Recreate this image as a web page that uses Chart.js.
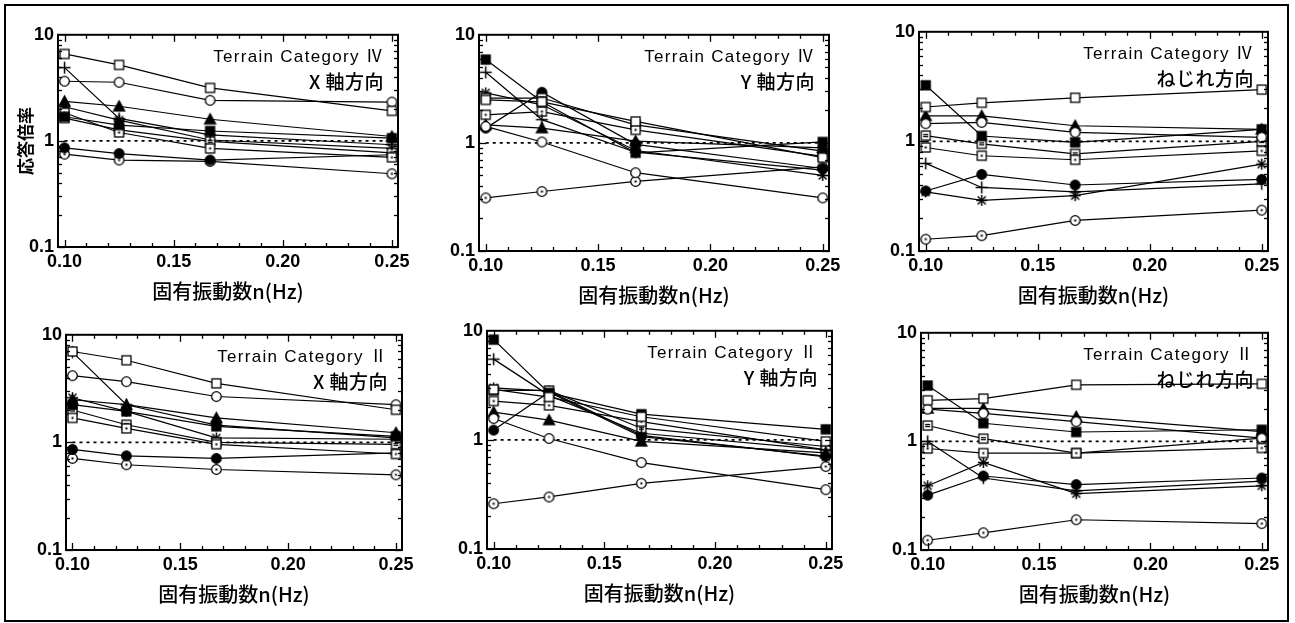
<!DOCTYPE html>
<html><head><meta charset="utf-8">
<script src="https://cdn.jsdelivr.net/npm/chart.js@4.4.1/dist/chart.umd.min.js"></script>
<style>
html,body{margin:0;padding:0;background:#fff;}
body{width:1295px;height:623px;position:relative;overflow:hidden;}
#frame{position:absolute;left:4px;top:4px;width:1281px;height:614px;border:2px solid #000;box-sizing:content-box;}
canvas{position:absolute;}
</style></head><body>
<div id="frame"></div>
<canvas id="c0"></canvas><canvas id="c1"></canvas><canvas id="c2"></canvas>
<canvas id="c3"></canvas><canvas id="c4"></canvas><canvas id="c5"></canvas>
<script>
// ---------------- data ----------------
const freq = [0.10, 0.125, 0.1667, 0.25];          // 固有振動数 n (Hz)
const xTickValues = [0.10, 0.15, 0.20, 0.25];
const yTickValues = [0.1, 1, 10];
const referenceLevel = 1;
const markerKinds = ['openSquare','openCircle','plus','filledTriangle','filledSquare',
                     'dotSquare','lineSquare','asterisk','filledCircle','dotCircle'];

// rows follow markerKinds order, columns follow freq
const cat4X = [[6.6,5.2,3.16,1.92],[3.65,3.57,2.41,2.32],[4.9,1.63,1.14,0.92],[2.36,2.12,1.6,1.1],
  [1.69,1.41,1.24,1.06],[1.84,1.2,0.85,0.70],[1.64,1.27,0.99,0.77],[2.1,1.57,1.02,0.85],
  [0.86,0.76,0.66,0.74],[0.75,0.66,0.64,0.49]];
const cat4Y = [[2.5,2.4,1.58,0.73],[1.42,1.02,0.53,0.31],[4.5,1.64,0.82,0.56],[1.47,1.37,1.04,0.9],
  [5.9,2.4,0.81,1.02],[1.82,1.95,1.32,0.75],[2.6,2.6,1.47,0.84],[2.9,2.25,0.85,0.5],
  [1.37,2.94,0.97,0.58],[0.31,0.355,0.44,0.6]];
const cat4T = [[2.06,2.25,2.5,2.97],[1.45,1.49,1.21,1.09],[0.63,0.38,0.346,0.41],[1.71,1.71,1.39,1.29],
  [3.25,1.12,0.98,1.29],[0.88,0.74,0.68,0.82],[1.13,0.95,0.77,1.0],[0.346,0.29,0.32,0.62],
  [0.353,0.5,0.40,0.45],[0.128,0.138,0.19,0.236]];
const cat2X = [[7.0,5.8,3.54,2.01],[4.17,3.67,2.67,2.24],[6.9,2.24,1.45,1.1],[2.49,2.24,1.69,1.23],
  [2.24,1.94,1.41,1.14],[1.69,1.35,0.96,0.78],[2.0,1.46,1.0,0.96],[2.6,1.94,1.1,1.07],
  [0.86,0.75,0.71,0.8],[0.71,0.62,0.56,0.5]];
const cat2Y = [[2.9,2.47,1.63,0.97],[1.57,1.03,0.62,0.35],[5.5,2.56,1.15,0.81],[1.8,1.52,0.97,0.76],
  [8.3,2.7,1.72,1.25],[2.27,2.07,1.47,0.81],[2.84,2.84,1.28,0.87],[3.0,2.8,1.1,0.7],
  [1.23,2.74,1.07,0.71],[0.26,0.30,0.40,0.57]];
const cat2T = [[2.39,2.48,3.32,3.39],[1.98,1.81,1.52,1.07],[1.0,0.46,0.35,0.43],[2.01,2.01,1.69,1.23],
  [3.27,1.47,1.22,1.28],[0.86,0.78,0.78,0.87],[1.4,1.06,0.78,1.07],[0.39,0.64,0.33,0.39],
  [0.32,0.48,0.40,0.46],[0.123,0.144,0.19,0.175]];

const panelData = [cat4X, cat4Y, cat4T, cat2X, cat2Y, cat2T];
const panelTitles = [
  ['Terrain Category Ⅳ','X 軸方向'], ['Terrain Category Ⅳ','Y 軸方向'], ['Terrain Category Ⅳ','ねじれ方向'],
  ['Terrain Category Ⅱ','X 軸方向'], ['Terrain Category Ⅱ','Y 軸方向'], ['Terrain Category Ⅱ','ねじれ方向']];
const xAxisTitle = '固有振動数n(Hz)';
const yAxisTitle = '応答倍率';

// ---------------- layout (plot-area boxes, px) ----------------
const boxes = [
  {l:58,r:398,t:32,b:247},{l:479,r:829,t:32,b:251},{l:919,r:1268,t:29,b:251},
  {l:66,r:402,t:332,b:550},{l:487,r:832,t:328,b:549},{l:921,r:1268,t:330,b:550}];
const PADL=5, YW=50, PADT=12, PADR=30, XH=58;
const FONT = '"Liberation Sans","Noto Sans CJK JP",sans-serif';
const CJK = '"Noto Sans CJK JP","Liberation Sans",sans-serif';

function makeMarker(kind){
  const S=15, c=document.createElement('canvas'); c.width=S; c.height=S;
  const g=c.getContext('2d'); const m=7.5;
  g.strokeStyle='#000'; g.fillStyle='#fff'; g.lineWidth=1.3;
  const sq=(fill)=>{ g.fillStyle=fill; g.fillRect(3,3,9,9); g.strokeRect(3,3,9,9); };
  const ci=(fill)=>{ g.beginPath(); g.arc(m,m,4.8,0,Math.PI*2); g.fillStyle=fill; g.fill(); g.stroke(); };
  const dot=()=>{ g.fillStyle='#000'; g.fillRect(6.5,6.5,2,2); };
  const seg=(a,b,c2,d)=>{ g.beginPath(); g.moveTo(a,b); g.lineTo(c2,d); g.stroke(); };
  switch(kind){
    case 'openSquare': sq('#fff'); break;
    case 'filledSquare': sq('#000'); break;
    case 'dotSquare': sq('#fff'); dot(); break;
    case 'lineSquare': sq('#fff'); seg(5,6.5,10,6.5); seg(5,8.5,10,8.5); break;
    case 'openCircle': ci('#fff'); break;
    case 'filledCircle': ci('#000'); break;
    case 'dotCircle': ci('#fff'); dot(); break;
    case 'filledTriangle': g.beginPath(); g.moveTo(m,2); g.lineTo(13,12); g.lineTo(2,12); g.closePath();
      g.fillStyle='#000'; g.fill(); g.stroke(); break;
    case 'plus': g.lineWidth=1.5; seg(m,1.5,m,13.5); seg(1.5,m,13.5,m); break;
    case 'asterisk': g.lineWidth=1.5; seg(m,2,m,13); seg(2,m,13,m); seg(3.5,3.5,11.5,11.5); seg(11.5,3.5,3.5,11.5); break;
  }
  return c;
}
const markerImages = markerKinds.map(makeMarker);

const axisFramePlugin = {
  id:'axisFrame',
  afterDatasetsDraw(chart){
    const {ctx, chartArea:a, scales:{x,y}} = chart;
    ctx.save(); ctx.strokeStyle='#000'; ctx.lineWidth=1.3;
    const ln=(x1,y1,x2,y2)=>{ctx.beginPath();ctx.moveTo(x1,y1);ctx.lineTo(x2,y2);ctx.stroke();};
    for(let k=10;k<=25;k++){
      const px=Math.round(x.getPixelForValue(k/100))+0.5; const len=(k%5===0)?7:4;
      ln(px,a.top,px,a.top+len); ln(px,a.bottom,px,a.bottom-len);
    }
    for(let e=-1;e<1;e++) for(let mm=1;mm<=9;mm++){
      const v=mm*Math.pow(10,e); const py=Math.round(y.getPixelForValue(v))+0.5; const len=mm===1?7:4;
      ln(a.left,py,a.left+len,py); ln(a.right,py,a.right-len,py);
    }
    ctx.lineWidth=2; ctx.strokeRect(a.left,a.top,a.right-a.left,a.bottom-a.top);
    ctx.restore();
  }
};
const panelTextPlugin = {
  id:'panelText',
  afterDraw(chart, args, opts){
    const {ctx, chartArea:a} = chart;
    ctx.save(); ctx.fillStyle='#000'; ctx.textAlign='right'; ctx.textBaseline='middle';
    ctx.font='17px '+FONT; ctx.letterSpacing='1.3px';
    ctx.fillText(opts.lines[0], a.right-14, a.top+23);
    ctx.font='500 19px '+CJK; ctx.letterSpacing='0.5px';
    ctx.fillText(opts.lines[1], a.right-14, a.top+47);
    ctx.restore();
  }
};

panelData.forEach((rows, i) => {
  const b = boxes[i];
  const cv = document.getElementById('c'+i);
  cv.width = (b.r-b.l)+PADL+YW+PADR; cv.height = (b.b-b.t)+PADT+XH;
  cv.style.left = (b.l-PADL-YW)+'px'; cv.style.top = (b.t-PADT)+'px';
  const datasets = rows.map((vals, j) => ({
    data: freq.map((f,k)=>({x:f, y:vals[k]})),
    borderColor:'#000', borderWidth:1.2, pointStyle: markerImages[j], pointRadius:5, tension:0, clip:false
  }));
  datasets.push({data:[{x:freq[0],y:referenceLevel},{x:freq[freq.length-1],y:referenceLevel}],
    borderColor:'#000', borderWidth:1.6, borderDash:[3,4], pointRadius:0});
  new Chart(cv, {
    type:'line',
    data:{datasets},
    options:{
      responsive:false, animation:false, devicePixelRatio:1,
      layout:{padding:{left:PADL, top:PADT, right:PADR, bottom:0}},
      plugins:{legend:{display:false}, tooltip:{enabled:false}, panelText:{lines:panelTitles[i]}},
      scales:{
        x:{type:'linear', min:0.097, max:0.2528,
          afterBuildTicks:s=>{ s.ticks = xTickValues.map(v=>({value:v})); },
          afterFit:s=>{ s.height = XH; },
          ticks:{callback:v=>Number(v).toFixed(2), color:'#000', font:{family:FONT, size:18, weight:'bold'}, padding:4, maxRotation:0, autoSkip:false},
          grid:{display:false, drawTicks:false}, border:{display:false},
          title:{display:true, text:xAxisTitle, color:'#000', font:{family:CJK, size:20, weight:'500'}, padding:{top:0,bottom:2}}},
        y:{type:'logarithmic', min:0.1, max:10,
          afterBuildTicks:s=>{ s.ticks = yTickValues.map(v=>({value:v})); },
          afterFit:s=>{ s.width = YW; },
          ticks:{callback:v=>String(v), color:'#000', font:{family:FONT, size:18, weight:'bold'}, padding:4, autoSkip:false},
          grid:{display:false, drawTicks:false}, border:{display:false},
          title:{display:i===0, text:yAxisTitle, color:'#000', font:{family:CJK, size:17, weight:'bold'}, padding:{top:7,bottom:0}}}
      }
    },
    plugins:[axisFramePlugin, panelTextPlugin]
  });
});
</script>
</body></html>
